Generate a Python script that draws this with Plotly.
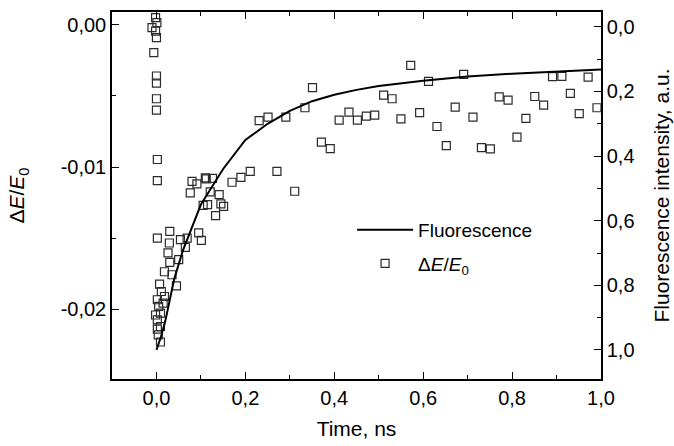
import plotly.graph_objects as go

# Fluorescence (right axis, reversed)
fl_time = [0.0, 0.01, 0.02, 0.04, 0.06, 0.08, 0.10, 0.15, 0.20, 0.25, 0.30, 0.35,
           0.40, 0.45, 0.50, 0.60, 0.70, 0.80, 0.90, 1.00]
fl_int = [1.00, 0.96, 0.91, 0.78, 0.69, 0.62, 0.55, 0.44, 0.35, 0.30, 0.26, 0.23,
          0.21, 0.195, 0.183, 0.167, 0.154, 0.145, 0.138, 0.132]

# Delta E / E0 (left axis)
de_time = [-0.002, 0.001, -0.01, -0.002, 0.0, -0.006, 0.0, 0.0, 0.0, 0.0, 0.002,
           0.002, 0.002, 0.030, 0.029, 0.026, 0.030, 0.018, 0.035, 0.007, 0.011,
           0.045, 0.054, 0.069, 0.065, 0.080, 0.091, 0.076, 0.112, 0.095, 0.101,
           0.050, 0.002, 0.005, 0.009, 0.002, 0.009, 0.018, 0.015, 0.004, 0.009,
           0.002, -0.002,
           0.110, 0.126, 0.121, 0.141, 0.105, 0.115, 0.145, 0.151, 0.133, 0.170,
           0.190, 0.211, 0.271, 0.311, 0.231, 0.251, 0.291, 0.334, 0.351, 0.371,
           0.391, 0.411, 0.433, 0.452, 0.472, 0.491, 0.511, 0.530, 0.550, 0.572,
           0.592, 0.612, 0.631, 0.652, 0.672, 0.691, 0.712, 0.731, 0.751, 0.771,
           0.791, 0.811, 0.831, 0.851, 0.871, 0.891, 0.912, 0.931, 0.951, 0.971,
           0.991]
de_val = [0.0005, 0.00015, -0.0002, -0.00044, -0.0009, -0.00196, -0.0036, -0.0041,
          -0.0052, -0.0060, -0.00947, -0.01095, -0.01499, -0.01452, -0.01534,
          -0.01604, -0.0167, -0.01736, -0.01757, -0.01823, -0.01875, -0.01835,
          -0.0151, -0.01499, -0.01565, -0.0110, -0.01118, -0.01182, -0.01083,
          -0.01463, -0.01515, -0.01651, -0.01933, -0.0198, -0.02027, -0.02074,
          -0.02121, -0.0191, -0.01956, -0.0218, -0.0223, -0.0214, -0.0204,
          -0.01076, -0.01079, -0.01175, -0.01194, -0.01269, -0.01264, -0.01259,
          -0.01276, -0.01342, -0.01107, -0.01072, -0.0103, -0.0103, -0.0117,
          -0.00673, -0.00649, -0.00649, -0.00583, -0.00442, -0.00825, -0.0087,
          -0.0067, -0.00614, -0.0067, -0.00642, -0.00635, -0.00494, -0.0052,
          -0.00661, -0.00285, -0.00618, -0.00398, -0.00715, -0.00849, -0.00579,
          -0.00349, -0.00649, -0.00863, -0.00872, -0.00506, -0.0053, -0.0079,
          -0.00658, -0.00504, -0.00565, -0.00365, -0.00363, -0.00482, -0.00625,
          -0.00368, -0.00583]

x_ticks = [0.0, 0.2, 0.4, 0.6, 0.8, 1.0]
x_labels = ["0,0", "0,2", "0,4", "0,6", "0,8", "1,0"]
yl_ticks = [0.0, -0.01, -0.02]
yl_labels = ["0,00", "-0,01", "-0,02"]
yr_ticks = [0.0, 0.2, 0.4, 0.6, 0.8, 1.0]
yr_labels = ["0,0", "0,2", "0,4", "0,6", "0,8", "1,0"]

FONT = "Liberation Sans, Arial, sans-serif"

fig = go.Figure()
fig.add_trace(go.Scatter(
    x=fl_time, y=fl_int, yaxis="y2", mode="lines", name="Fluorescence",
    line=dict(color="black", width=2), legendgroup="a"))
fig.add_trace(go.Scatter(
    x=de_time, y=de_val, mode="markers", name="Δ<i>E</i>/<i>E</i><sub>0</sub>",
    marker=dict(symbol="square-open", size=8, color="#2a2a2a",
                line=dict(width=1.2, color="#2a2a2a")), legendgroup="b"))

axis_common = dict(showline=True, linecolor="black", linewidth=1.5,
                   ticks="inside", ticklen=7, tickwidth=1.3, tickcolor="black",
                   showgrid=False, zeroline=False, automargin=False,
                   tickfont=dict(family=FONT, size=20, color="black"))

fig.update_layout(
    width=674, height=446,
    margin=dict(l=112, r=73, t=12, b=67),
    plot_bgcolor="white", paper_bgcolor="white",
    font=dict(family=FONT, color="black"),
    showlegend=True,
    legend=dict(x=0.491, y=0.458, xanchor="left", yanchor="top",
                bgcolor="rgba(0,0,0,0)", font=dict(family=FONT, size=19),
                itemwidth=56, tracegroupgap=6, traceorder="grouped"),
    xaxis=dict(range=[-0.1, 1.0], tickmode="array", tickvals=x_ticks,
               ticktext=x_labels, mirror="ticks",
               minor=dict(tickmode="linear", tick0=0, dtick=0.1, ticks="inside",
                          ticklen=4, tickwidth=1.3, tickcolor="black"),
               title=dict(text="Time, ns", font=dict(family=FONT, size=21),
                          standoff=14),
               **axis_common),
    yaxis=dict(range=[-0.0249, 0.0009], tickmode="array", tickvals=yl_ticks,
               ticktext=yl_labels,
               minor=dict(tickmode="linear", tick0=0, dtick=0.005, ticks="inside",
                          ticklen=4, tickwidth=1.3, tickcolor="black"),
               title=dict(text="Δ<i>E</i>/<i>E</i><sub>0</sub>",
                          font=dict(family=FONT, size=21), standoff=30),
               **axis_common),
    yaxis2=dict(range=[1.09, -0.046], overlaying="y", side="right",
                tickmode="array", tickvals=yr_ticks, ticktext=yr_labels,
                minor=dict(tickmode="linear", tick0=0, dtick=0.1, ticks="inside",
                           ticklen=4, tickwidth=1.3, tickcolor="black"),
                title=dict(text="Fluorescence intensity, a.u.",
                           font=dict(family=FONT, size=21), standoff=21),
                **axis_common),
)

fig.write_html("out.html")
